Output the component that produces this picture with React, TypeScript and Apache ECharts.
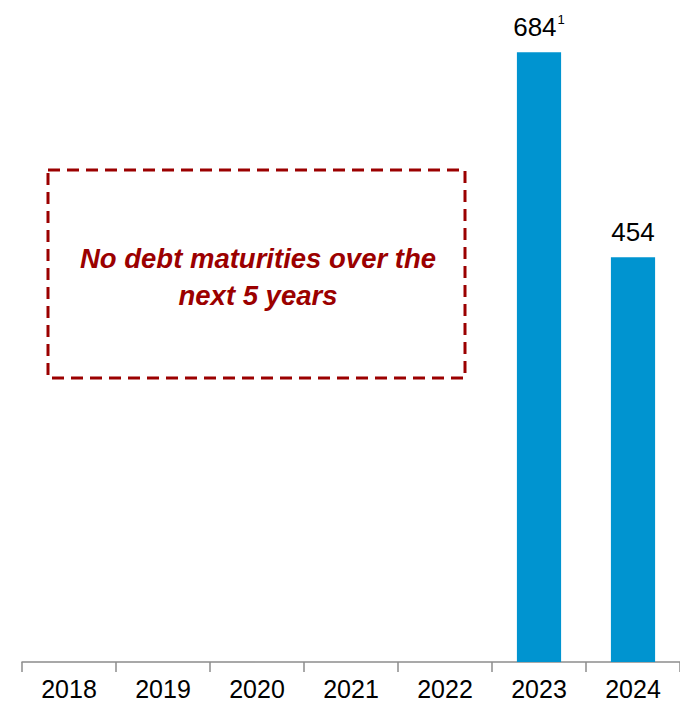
import React, { useEffect, useRef } from "react";
import * as echarts from "echarts";

const categories = ["2018", "2019", "2020", "2021", "2022", "2023", "2024"];
const values: (number | null)[] = [null, null, null, null, null, 684, 454];
const footnotes: string[] = ["", "", "", "", "", "1", ""];
const noteText = "No debt maturities over the\nnext 5 years";

export default function App() {
  const ref = useRef<HTMLDivElement>(null);
  useEffect(() => {
    if (!ref.current) return;
    const chart = echarts.init(ref.current, undefined, { renderer: "svg" });
    chart.setOption({
      animation: false,
      grid: { left: 22, right: 0, top: 38, bottom: 43, containLabel: false },
      xAxis: {
        type: "category",
        data: categories,
        axisLine: { lineStyle: { color: "#8c8c8c", width: 1.5 } },
        axisTick: { show: true, length: 10, lineStyle: { color: "#8c8c8c", width: 1.5 } },
        axisLabel: {
          color: "#000",
          fontSize: 25,
          fontFamily: "Liberation Sans, Arial, sans-serif",
          margin: 14,
        },
      },
      yAxis: {
        type: "value",
        min: 0,
        max: 700,
        show: false,
        splitLine: { show: false },
      },
      series: [
        {
          type: "bar",
          data: values,
          barWidth: "47%",
          itemStyle: { color: "#0094D0" },
          label: {
            show: true,
            position: "top",
            distance: 12,
            color: "#000",
            fontSize: 26,
            fontFamily: "Liberation Sans, Arial, sans-serif",
            formatter: (p: any) => {
              const fn = footnotes[p.dataIndex];
              return fn ? `{v|${p.value}}{s|${fn}}` : `{v|${p.value}}`;
            },
            rich: {
              v: {
                fontSize: 26,
                color: "#000",
                fontFamily: "Liberation Sans, Arial, sans-serif",
              },
              s: {
                fontSize: 13,
                color: "#000",
                fontFamily: "Liberation Sans, Arial, sans-serif",
                verticalAlign: "top",
                padding: [0, 0, 14, 1],
              },
            },
          },
        },
      ],
      graphic: [
        {
          type: "rect",
          shape: { x: 48, y: 170, width: 417, height: 208 },
          style: {
            fill: "none",
            stroke: "#9B0000",
            lineWidth: 3,
            lineDash: [12, 7],
          },
        },
        {
          type: "text",
          x: 258,
          y: 277,
          style: {
            text: noteText,
            fill: "#9B0000",
            font: "italic bold 27.5px 'Liberation Sans', Arial, sans-serif",
            align: "center",
            verticalAlign: "middle",
            lineHeight: 37,
          },
        },
      ],
    });
    return () => chart.dispose();
  }, []);
  return <div ref={ref} style={{ width: 680, height: 705, position: "absolute", left: 0, top: 0 }} />;
}
